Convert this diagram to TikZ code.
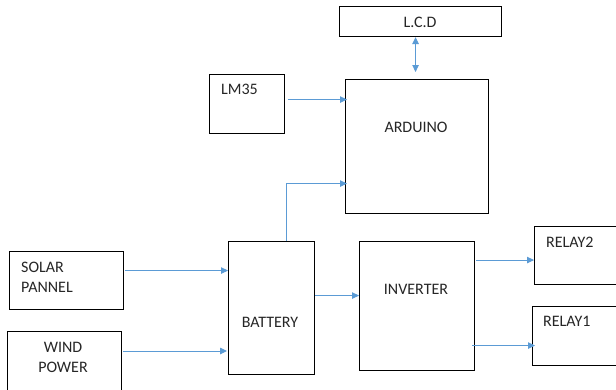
\documentclass[tikz,border=0pt]{standalone}
\usepackage{fontspec}
\setmainfont{Carlito}
\usetikzlibrary{arrows.meta}
\definecolor{arrblue}{HTML}{5B9BD5}
\definecolor{txt}{HTML}{262626}
\tikzset{
  box/.style={draw=black, line width=1.1pt, anchor=north west, inner sep=0pt, fill=none},
  lbl/.style={inner sep=0pt, text=txt, font=\fontsize{16}{20}\selectfont},
  arr/.style={draw=arrblue, line width=0.9pt, -{Triangle[length=7pt,width=6.5pt]}},
  dbl/.style={draw=arrblue, line width=0.9pt, {Triangle[length=7pt,width=6.5pt]}-{Triangle[length=7pt,width=6.5pt]}}
}
\begin{document}
\begin{tikzpicture}[x=1pt,y=-1pt]
\useasboundingbox (0,0) rectangle (616,389);
\clip (0,0) rectangle (616,389);
\fill[white] (0,0) rectangle (616,389);
% boxes
\node[box, minimum width=162pt, minimum height=30pt] (lcd) at (339,6) {};
\node[box, minimum width=75pt, minimum height=59pt] (lm35) at (209,74) {};
\node[box, minimum width=143pt, minimum height=134pt] (arduino) at (345,79) {};
\node[box, minimum width=114pt, minimum height=58pt] (solar) at (9,251) {};
\node[box, minimum width=114pt, minimum height=70pt] (wind) at (7,331) {};
\node[box, minimum width=86pt, minimum height=133pt] (battery) at (228,241) {};
\node[box, minimum width=115pt, minimum height=129pt] (inverter) at (359,241) {};
\node[box, minimum width=96pt, minimum height=58pt] (relay2) at (534,226) {};
\node[box, minimum width=98pt, minimum height=59pt] (relay1) at (532,306) {};
% labels
\node[lbl] (tlcd) at (420,22) {L.C.D};
\node[lbl, anchor=west] (tlm) at (221,89) {LM35};
\node[lbl] (tard) at (416,127) {ARDUINO};
\node[lbl, anchor=west] (tsol1) at (21,267) {SOLAR};
\node[lbl, anchor=west] (tsol2) at (21,287) {PANNEL};
\node[lbl] (twin1) at (63,347) {WIND};
\node[lbl] (twin2) at (63,367) {POWER};
\node[lbl] (tbat) at (270,322) {BATTERY};
\node[lbl] (tinv) at (416,289) {INVERTER};
\node[lbl, anchor=west] (tr2) at (546,242) {RELAY2};
\node[lbl, anchor=west] (tr1) at (543,321) {RELAY1};
% connectors
\draw[dbl, shorten >=7pt] ([xshift=-1.5pt]arduino.north |- lcd.south) -- ([xshift=-1.5pt]arduino.north);
\draw[arr, shorten <=3pt, shorten >=-2pt] ([yshift=4.5pt]lm35.east) -- ([yshift=4.5pt]lm35.east -| arduino.west);
\draw[arr, shorten >=-2pt] ([xshift=15pt]battery.north) |- ([yshift=-37pt]arduino.west);
\draw[arr, shorten <=1pt] ([yshift=10pt]solar.east) -- ([yshift=10pt]solar.east -| battery.west);
\draw[arr, shorten <=1pt, shorten >=1pt] ([yshift=-20pt]wind.north east) -- ([yshift=-20pt]wind.north east -| battery.west);
\draw[arr] ([yshift=12.5pt]battery.east) -- ([yshift=12.5pt]battery.east -| inverter.west);
\draw[arr, shorten <=1pt] ([yshift=46pt]inverter.east) -- ([yshift=46pt]inverter.east -| relay2.west);
\draw[arr, shorten <=-3pt, shorten >=-3pt] ([yshift=-39.5pt]inverter.east) -- ([yshift=-39.5pt]inverter.east -| relay1.west);
\end{tikzpicture}
\end{document}
